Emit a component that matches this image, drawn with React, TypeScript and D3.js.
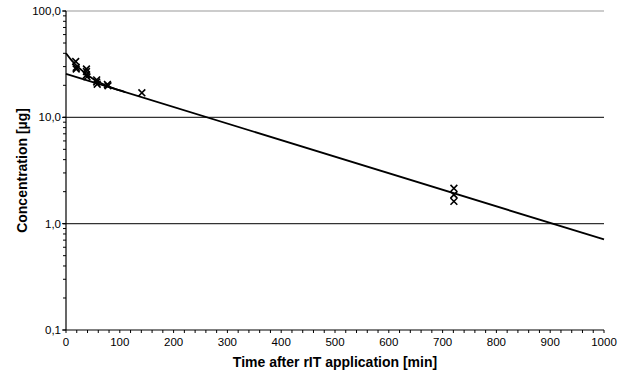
import { useRef, useEffect } from 'react';
import * as d3 from 'd3';

// measured points (time [min], concentration [µg])
const sampleTimes = [18, 19, 19, 38, 38, 38, 39, 57, 57, 58, 77, 78, 141, 721, 721, 721];
const sampleConc = [33.5, 29.5, 28.5, 28.5, 27, 25, 24, 22.5, 21.5, 20.5, 20.4, 19.8, 17, 2.15, 1.87, 1.62];

// terminal (log-linear) fit
const fitTimes = [0, 1000];
const fitConc = [25.6, 0.71];

// early two-compartment curve
const earlyTimes = [0, 10, 20, 30, 40, 50, 60, 75, 90, 110];
const earlyConc = [40, 34.5, 30.5, 27.5, 25, 23.1, 21.6, 19.9, 18.6, 17.3];

const xTicks = [0, 100, 200, 300, 400, 500, 600, 700, 800, 900, 1000];
const yMajor = [0.1, 1, 10, 100];
const yLabels = ['0,1', '1,0', '10,0', '100,0'];

export default function App() {
  const svgRef = useRef<SVGSVGElement>(null);

  useEffect(() => {
    if (!svgRef.current) return;
    const svg = d3.select(svgRef.current);
    svg.selectAll('*').remove();

    const width = 627;
    const height = 379;
    const left = 66, right = 604, top = 11, bottom = 330;
    svg.attr('viewBox', `0 0 ${width} ${height}`);

    const x = d3.scaleLinear().domain([0, 1000]).range([left, right]);
    const y = d3.scaleLog().domain([0.1, 100]).range([bottom, top]);
    const font = 'Liberation Sans, Arial, sans-serif';

    // Gridlines
    yMajor.slice(1).forEach((v) => {
      svg.append('line')
        .attr('x1', left).attr('x2', right)
        .attr('y1', y(v)).attr('y2', y(v))
        .attr('stroke', v === 100 ? '#999' : '#333').attr('stroke-width', 1.2);
    });

    // Y axis with minor log ticks
    const minor: number[] = [];
    [0.1, 1, 10].forEach((d) => { for (let k = 1; k <= 10; k++) minor.push(d * k); });
    svg.append('line')
      .attr('x1', left).attr('x2', left).attr('y1', top).attr('y2', bottom)
      .attr('stroke', '#000').attr('stroke-width', 1.2);
    minor.forEach((v) => {
      svg.append('line')
        .attr('x1', left - 3).attr('x2', left)
        .attr('y1', y(v)).attr('y2', y(v))
        .attr('stroke', '#000').attr('stroke-width', 1);
    });
    yMajor.forEach((v, i) => {
      svg.append('line')
        .attr('x1', left - 4).attr('x2', left)
        .attr('y1', y(v)).attr('y2', y(v))
        .attr('stroke', '#000').attr('stroke-width', 1);
      svg.append('text')
        .attr('x', left - 5).attr('y', y(v) + 4)
        .attr('text-anchor', 'end')
        .style('font-family', font).style('font-size', '11.5px')
        .text(yLabels[i]);
    });

    // X axis
    svg.append('line')
      .attr('x1', left).attr('x2', right).attr('y1', bottom).attr('y2', bottom)
      .attr('stroke', '#000').attr('stroke-width', 1.2);
    d3.range(0, 1001, 20).forEach((t) => {
      svg.append('line')
        .attr('x1', x(t)).attr('x2', x(t))
        .attr('y1', bottom).attr('y2', bottom + 3)
        .attr('stroke', '#000').attr('stroke-width', 1);
    });
    xTicks.forEach((t) => {
      svg.append('text')
        .attr('x', x(t)).attr('y', bottom + 16)
        .attr('text-anchor', 'middle')
        .style('font-family', font).style('font-size', '11.5px')
        .text(String(t));
    });

    // Fit lines
    const line = d3.line<number>()
      .x((_, i) => x(fitTimes[i]))
      .y((d) => y(d));
    svg.append('path')
      .datum(fitConc)
      .attr('d', line)
      .attr('fill', 'none').attr('stroke', '#000').attr('stroke-width', 1.8);

    const curve = d3.line<number>()
      .x((_, i) => x(earlyTimes[i]))
      .y((d) => y(d))
      .curve(d3.curveMonotoneX);
    svg.append('path')
      .datum(earlyConc)
      .attr('d', curve)
      .attr('fill', 'none').attr('stroke', '#000').attr('stroke-width', 1.8);

    // Markers
    const s = 3.4;
    sampleConc.forEach((c, i) => {
      const cx = x(sampleTimes[i]);
      const cy = y(c);
      svg.append('path')
        .attr('d', `M${cx - s},${cy - s}L${cx + s},${cy + s}M${cx - s},${cy + s}L${cx + s},${cy - s}`)
        .attr('stroke', '#000').attr('stroke-width', 1.6).attr('fill', 'none');
    });

    // Axis titles
    svg.append('text')
      .attr('x', (left + right) / 2).attr('y', 367)
      .attr('text-anchor', 'middle')
      .style('font-family', font).style('font-size', '14px').style('font-weight', 'bold')
      .text('Time after rIT application [min]');

    svg.append('text')
      .attr('transform', `translate(27, ${(top + bottom) / 2}) rotate(-90)`)
      .attr('text-anchor', 'middle')
      .style('font-family', font).style('font-size', '14px').style('font-weight', 'bold')
      .text('Concentration [µg]');
  }, []);

  return (
    <svg
      ref={svgRef}
      width={627}
      height={379}
      style={{ position: 'absolute', left: 0, top: 0, background: '#fff' }}
    />
  );
}
